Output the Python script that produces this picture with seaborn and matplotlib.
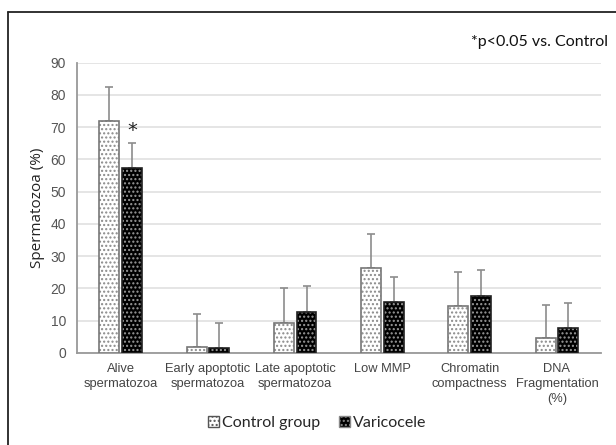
import matplotlib
matplotlib.use("Agg")
import matplotlib.pyplot as plt
import seaborn as sns
import pandas as pd
import numpy as np
from matplotlib.patches import Patch
from matplotlib.lines import Line2D

categories = ["Alive\nspermatozoa", "Early apoptotic\nspermatozoa", "Late apoptotic\nspermatozoa",
              "Low MMP", "Chromatin\ncompactness", "DNA\nFragmentation\n(%)"]
groups = ["Control group", "Varicocele"]
control_mean = [72.0, 1.8, 9.4, 26.2, 14.5, 4.5]
control_err = [10.5, 10.2, 10.6, 10.7, 10.5, 10.5]
varico_mean = [57.3, 1.5, 12.8, 15.7, 17.8, 7.6]
varico_err = [7.7, 7.8, 7.8, 7.8, 7.9, 8.0]
yticks = [0, 10, 20, 30, 40, 50, 60, 70, 80, 90]

sns.set_theme(style="white")
plt.rcParams['font.family'] = ['Liberation Sans', 'DejaVu Sans']
plt.rcParams['hatch.linewidth'] = 1.0

df = pd.DataFrame({
    "cat": categories * 2,
    "group": [groups[0]] * 6 + [groups[1]] * 6,
    "val": control_mean + varico_mean,
})

fig = plt.figure(figsize=(6.16, 4.45), dpi=100)
ax = fig.add_axes([0.125, 0.207, 0.85, 0.652])

sns.barplot(data=df, x="cat", y="val", hue="group", order=categories, hue_order=groups,
            palette=["white", "black"], width=0.52, gap=0.12, errorbar=None, ax=ax,
            legend=False, zorder=3)

bars = ax.patches
n = len(categories)
errs = control_err + varico_err
for i, p in enumerate(bars[:2 * n]):
    if i < n:
        p.set_facecolor("white")
        p.set_edgecolor("#8a8a8a")
        p.set_hatch("....")
    else:
        p.set_facecolor("black")
        p.set_edgecolor("#9a9a9a")
        p.set_hatch("....")
    p.set_linewidth(0.0)
    x0, y0, w, h = p.get_x(), p.get_y(), p.get_width(), p.get_height()
    ax.add_patch(plt.Rectangle((x0, y0), w, h, fill=False,
                               edgecolor="#777777" if i < n else "#222222", lw=1.2, zorder=4))
    cx = x0 + w / 2
    ax.errorbar([cx], [h], yerr=[[0], [errs[i]]], fmt="none", ecolor="#8c8c8c",
                elinewidth=1.2, capsize=3, capthick=1.2, zorder=2)

star_bar = bars[n]
ax.text(star_bar.get_x() + star_bar.get_width() / 2, varico_mean[0] + varico_err[0] + 1.0, "*",
        ha="center", va="bottom", fontsize=14, color="#222222", family=["DejaVu Sans"])

ax.set_ylim(0, 90)
ax.set_yticks(yticks)
ax.set_xlim(-0.5, n - 0.5)
ax.yaxis.grid(True, color="#e0e0e0", lw=1.2, zorder=0)
ax.set_axisbelow(True)
for s in ["top", "right"]:
    ax.spines[s].set_visible(False)
ax.spines["left"].set_color("#999999")
ax.spines["bottom"].set_color("#999999")
ax.spines["left"].set_linewidth(1.3)
ax.spines["bottom"].set_linewidth(1.3)
ax.tick_params(axis="x", length=0, labelsize=9.3, colors="#444444", pad=7)
ax.tick_params(axis="y", length=0, labelsize=10, colors="#555555", pad=8)
for lab in ax.get_xticklabels():
    lab.set_linespacing(1.35)
ax.set_xlabel("")
ax.set_ylabel("Spermatozoa (%)", fontsize=11, color="#222222", labelpad=4,
              family=["Open Sans", "DejaVu Sans"])

fig.text(0.987, 0.905, "*p<0.05 vs. Control", ha="right", va="center",
         color="#111111", family=["Lato", "DejaVu Sans"], fontsize=11.5)

handles = [Patch(facecolor="white", edgecolor="#555555", hatch="...."),
           Patch(facecolor="black", edgecolor="#888888", hatch="....")]
fig.legend(handles, groups, loc="center", bbox_to_anchor=(0.515, 0.05), ncol=2, frameon=False,
           handlelength=0.7, handleheight=0.7, handletextpad=0.15, columnspacing=1.2,
           prop={"family": ["Lato", "DejaVu Sans"], "size": 11.5})

fig.add_artist(Line2D([0.013, 0.013], [0.0, 0.973], color="#222222", lw=1.3, transform=fig.transFigure))
fig.add_artist(Line2D([0.013, 1.0], [0.973, 0.973], color="#222222", lw=1.3, transform=fig.transFigure))

fig.savefig("out.png", dpi=100, facecolor="white")
